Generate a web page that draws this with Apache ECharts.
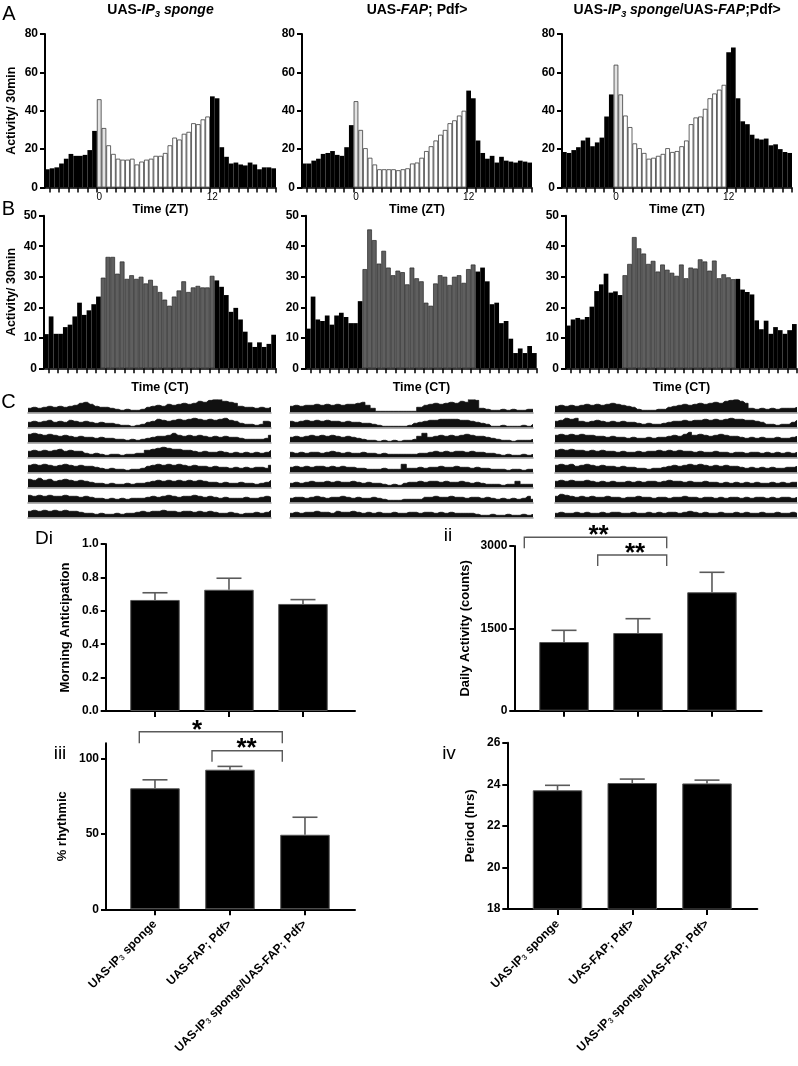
<!DOCTYPE html>
<html><head><meta charset="utf-8">
<script src="https://cdn.jsdelivr.net/npm/echarts@6/dist/echarts.min.js"></script>
<style>html,body{margin:0;padding:0;background:#fff}#c{width:798px;height:1066px}</style>
</head><body><div id="c"></div>
<script>
const FONT = '"Liberation Sans", Arial, Helvetica, sans-serif';

// ---------- Panel A: LD activity profiles (counts / 30 min) ----------
const aIP3  = [9.5,10,10.5,12.5,15,17.5,16.5,16.5,17,19.5,29.5, 46,31,22,17.5,15,14.5,14.5,15,12,13.5,14.5,15,16.5,16.5,18,22,26,25,28,29,33.5,33,35.5,37, 47.5,46.5,21,16,12.5,13,12,11.5,13,12,9.5,10.5,10.5,10];
const aFAP  = [12.5,12.5,14,15,17.5,18,19,17,16.5,21,32.5, 45,30,20.5,15.5,12,9.5,9.5,9.5,9.5,9,9.5,10,12.5,13,15.5,19,21.5,24.5,27.5,30,33.5,35,37.5,40, 50.5,46.5,24.5,18,15,16.5,13,16,14,13.5,13,14,13.5,13];
const aBoth = [18.5,18,19.5,21,24.5,26,21.5,23.5,26,37,48.5, 64,48.5,37.5,31.5,23,20.5,18,15,15.5,16.5,17.5,20.5,18.5,19,21.5,24.5,33,36.5,37,41,46.5,49,51,53.5, 70.5,73,46.5,34.5,33,27.5,25.5,25,25.5,22,22.5,20,18.5,18];
const aLightFrom = 11, aLightTo = 35;
const aTickLabels = {11: '0', 35: '12'};

// ---------- Panel B: DD activity profiles ----------
const bIP3  = [11.2,17,11.3,11.3,13.5,14.3,17,21.5,17.5,19,21,23.5, 29.7,36.5,36.5,31,35,29.3,30.5,29.3,30,27.8,29,27,25,22.5,20.5,23.5,25.5,28.5,25,26.5,27,26.5,26.5,30.3, 28.8,26.7,24,18.5,19.8,16,12,8.5,7,8.5,7,8,11];
const bFAP  = [13,23.5,16,15.5,17.3,14.3,17.3,18.2,16.8,14.8,14.8,22, 32.5,45.5,42,34.3,38.5,33,30.5,32,31.5,27.5,33,29.5,28.5,21.5,20.5,27.8,30.5,30,27.3,30,30.5,28,32.5,34, 31.7,33,28.5,21,21.5,14.8,15.5,9.7,5,6.5,5,7.3,5];
const bBoth = [14,16,16.5,16,16.8,20.2,25.3,27.5,31,24.8,25.2,24, 30.5,34.2,43,39.3,37.6,34.2,35.2,31.7,34,32.3,31.3,30.3,34,29.5,33,32.7,35.7,35,32,35.3,29.5,30.8,29.8,29.2, 29.3,25.8,25,24.2,15.7,12.8,15.6,11.3,13.5,12.5,11.3,12.5,14.5];
const bDayFrom = 12, bDayTo = 36;

// ---------- Panel C: actogram rows (8 days each) ----------
const cIP3 = [
 [4,5,4,5,6,5,6,5,6,7,9,10,8,6,5,5,4,3,2,3,2,2,3,5,6,7,6,8,7,8,9,8,9,11,10,12,13,14,11,10,9,6,5,5,4,5,4,5],
 [5,6,5,6,7,5,6,5,7,6,5,6,5,4,5,4,4,3,2,2,1,2,3,5,6,8,7,6,7,8,7,8,9,8,7,8,7,8,9,7,6,4,3,3,2,3,6,5],
 [8,9,8,7,8,7,6,7,6,5,6,5,5,4,5,4,4,3,3,2,3,2,3,4,5,6,6,7,9,7,6,7,6,7,6,5,6,5,6,5,5,4,3,3,3,3,4,7],
 [6,7,6,7,6,7,8,6,7,6,6,4,3,4,3,2,3,3,2,3,3,4,4,7,8,9,10,9,8,8,7,7,6,5,6,5,5,6,5,4,5,4,5,4,5,4,5,7],
 [7,8,7,8,7,6,7,8,7,6,7,6,6,5,4,3,4,3,3,2,3,3,4,6,7,8,7,8,7,8,7,6,7,6,6,5,6,5,5,4,5,4,5,4,5,5,4,7],
 [8,7,9,7,8,6,7,8,7,6,7,6,5,4,4,3,4,3,3,4,3,4,4,5,6,7,6,7,6,7,6,7,6,7,6,5,5,4,5,4,4,5,4,4,3,4,5,7],
 [7,6,7,6,7,6,6,7,6,6,5,6,5,4,4,3,4,3,4,3,4,4,4,5,6,5,6,7,6,5,6,6,7,6,5,6,5,4,5,4,4,4,5,4,4,5,6,5],
 [6,7,6,7,6,7,6,7,6,6,5,4,4,3,4,3,3,4,3,4,4,5,6,5,6,6,7,6,6,5,6,6,5,6,5,6,5,4,4,5,4,3,4,4,5,4,5,7]
];
const cFAP = [
 [6,7,6,7,7,8,7,8,7,8,7,8,8,9,10,7,4,1,1,1,1,1,1,1,1,5,7,8,9,8,9,10,9,11,10,14,12,4,3,2,2,3,2,3,2,2,3,3],
 [6,5,6,7,6,7,6,7,6,6,5,6,5,5,4,4,3,2,1,1,1,1,1,2,4,5,6,7,7,8,8,8,8,7,7,6,5,4,3,1,1,2,1,1,1,2,1,3],
 [5,6,5,6,7,6,7,6,7,6,5,6,5,4,3,2,2,1,2,1,2,1,2,2,3,6,9,5,6,7,6,7,6,7,8,7,6,6,5,4,3,2,2,1,2,2,2,3],
 [5,4,5,4,5,5,4,5,6,5,4,5,4,4,5,4,4,3,4,3,3,3,3,3,3,4,4,5,6,5,6,5,6,6,5,6,5,5,4,4,3,2,3,2,2,3,2,3],
 [5,6,5,6,5,6,6,5,6,5,6,5,5,4,4,3,3,3,4,3,3,3,8,4,4,5,4,5,5,6,5,5,6,5,5,4,5,4,4,3,3,3,2,3,3,2,3,3],
 [4,5,4,5,6,5,5,6,5,6,5,5,6,5,4,5,4,4,3,2,3,2,4,5,5,6,5,6,6,5,6,5,5,6,5,4,5,4,3,3,3,2,3,3,6,3,3,3],
 [4,5,5,4,5,6,5,4,5,5,6,5,4,5,4,4,5,4,3,2,2,2,3,3,3,3,5,5,6,5,5,6,5,5,4,5,5,4,5,4,3,4,3,4,3,4,6,3],
 [4,5,4,5,5,6,5,5,4,6,5,5,6,5,4,5,4,5,4,4,5,4,4,5,5,4,5,5,4,5,4,5,4,4,4,4,3,2,2,3,2,2,3,2,2,3,2,3]
];
const cBoth = [
 [6,7,6,7,6,7,8,7,8,7,8,9,8,7,6,5,3,2,2,2,3,3,5,6,7,8,7,8,9,8,9,10,9,11,12,13,11,9,4,3,4,3,4,3,4,4,4,5],
 [6,7,9,8,9,6,5,6,7,6,5,6,5,6,5,5,4,3,4,3,3,4,5,6,6,7,6,7,7,8,7,8,7,8,9,8,8,7,7,6,5,3,3,2,3,3,5,7],
 [7,8,7,8,7,8,7,7,6,6,5,6,5,5,4,5,4,4,5,4,5,5,6,7,6,8,10,7,8,7,6,7,8,7,6,6,5,4,5,4,5,4,4,5,4,4,5,6],
 [7,8,7,8,7,7,6,7,6,7,6,6,5,6,5,5,6,5,6,6,7,6,7,6,7,6,6,5,6,5,5,6,5,5,4,5,5,4,5,5,4,5,4,5,4,5,4,5],
 [7,8,7,8,6,7,8,7,6,7,6,6,5,6,5,5,4,4,3,4,4,5,6,7,6,7,8,7,8,7,6,7,6,7,6,6,5,4,5,4,5,4,5,4,4,5,5,6],
 [6,7,6,7,6,6,7,6,5,6,5,6,5,5,6,5,6,5,6,6,5,6,7,6,6,5,6,5,5,6,5,5,4,5,4,5,4,5,4,5,4,4,5,4,5,4,5,5],
 [6,8,7,6,5,6,5,6,5,5,6,5,5,4,5,5,6,5,5,4,5,5,4,5,5,6,5,5,4,5,5,4,5,4,5,5,4,5,4,5,5,4,5,4,5,5,4,5],
 [4,5,4,4,5,4,5,4,4,5,4,5,5,4,4,5,4,4,5,4,5,4,5,5,4,5,6,5,4,5,4,4,5,4,4,5,4,5,4,4,5,4,4,5,4,4,5,4]
];

// ---------- Panel D: summary statistics (mean, SEM) ----------
const genotypes = ['UAS-IP3 sponge', 'UAS-FAP; Pdf>', 'UAS-IP3 sponge/UAS-FAP; Pdf>'];
const morningMean = [0.665, 0.726, 0.641], morningSem = [0.043, 0.069, 0.026];
const dailyMean = [1251, 1415, 2157], dailySem = [213, 261, 364];
const rhythmicMean = [80.2, 92.5, 49.4], rhythmicSem = [5.6, 2.2, 11.6];
const periodMean = [23.71, 24.06, 24.04], periodSem = [0.24, 0.19, 0.16];

// ================= build =================
const grid = [], xAxis = [], yAxis = [], series = [], graphic = [];
const nameStyle = (fs) => ({color:'#000', fontFamily:FONT, fontWeight:'bold', fontSize:fs});

function histo(left, top, width, height, values, kind, yMax, yInt, yName, yGap, xName, xLabels) {
  const gi = grid.length;
  grid.push({left, top, width, height, containLabel:false, outerBoundsMode:'none'});
  xAxis.push({type:'category', gridIndex:gi, data: values.map((_, i) => String(i)), boundaryGap:true,
    axisLine:{show:true, onZero:false, lineStyle:{color:'#000', width:1.5}},
    axisTick:{show:true, length:5, interval:(i) => i % 2 === 1, lineStyle:{color:'#000', width:1.5}},
    axisLabel:{show:!!xLabels, interval:0, margin:5, color:'#000', fontFamily:FONT, fontSize:10,
      formatter:(v, i) => (xLabels && xLabels[i]) || ''},
    splitLine:{show:false},
    name:xName, nameLocation:'middle', nameGap: xLabels ? 15 : 13, nameTextStyle:nameStyle(12.5)});
  yAxis.push({type:'value', gridIndex:gi, min:0, max:yMax, interval:yInt,
    axisLine:{show:true, lineStyle:{color:'#000', width:2}},
    axisTick:{show:true, length:5, lineStyle:{color:'#000', width:2}},
    axisLabel:{color:'#000', fontFamily:FONT, fontWeight:'bold', fontSize:12, margin:7},
    splitLine:{show:false},
    name:yName || '', nameLocation:'middle', nameGap:yGap || 0, nameTextStyle:nameStyle(12.5)});
  const data = values.map((v, i) => {
    let st;
    if (kind === 'A') {
      if (i < aLightFrom || i >= aLightTo) st = {color:'#000'};
      else st = {color: i < aLightFrom + 2 ? '#e2e2e2' : '#fff', borderColor:'#3c3c3c', borderWidth:0.8};
    } else {
      if (i < bDayFrom || i >= bDayTo) st = {color:'#000'};
      else st = {color:'#5f5f5f', borderColor:'#262626', borderWidth:0.7};
    }
    return {value:v, itemStyle:st};
  });
  series.push({type:'bar', xAxisIndex:gi, yAxisIndex:gi, data, barCategoryGap:'0%', barGap:'0%', silent:true});
}

histo(45, 34, 231, 153.5, aIP3, 'A', 80, 20, 'Activity/ 30min', 27, 'Time (ZT)', aTickLabels);
histo(302, 34, 230, 153.5, aFAP, 'A', 80, 20, '', 0, 'Time (ZT)', aTickLabels);
histo(562, 34, 230, 153.5, aBoth, 'A', 80, 20, '', 0, 'Time (ZT)', aTickLabels);
histo(44, 215.7, 232, 152.6, bIP3, 'B', 50, 10, 'Activity/ 30min', 26, 'Time (CT)', null);
histo(306, 215.7, 230.7, 152.6, bFAP, 'B', 50, 10, '', 0, 'Time (CT)', null);
histo(566, 215.7, 230.7, 152.6, bBoth, 'B', 50, 10, '', 0, 'Time (CT)', null);

function actoRow(left, top, width, height, vals) {
  const gi = grid.length;
  grid.push({left, top, width, height, containLabel:false, outerBoundsMode:'none'});
  xAxis.push({type:'category', gridIndex:gi, data: vals.map((_, i) => String(i)), boundaryGap:false,
    axisLine:{show:true, onZero:false, lineStyle:{color:'#9a9a9a', width:1.6}},
    axisTick:{show:false}, axisLabel:{show:false}, splitLine:{show:false}});
  yAxis.push({type:'value', gridIndex:gi, min:0, max:12.5, show:false, splitLine:{show:false}});
  series.push({type:'line', xAxisIndex:gi, yAxisIndex:gi, data:vals, symbol:'none', silent:true, step:'middle',
    lineStyle:{color:'#111', width:0.8}, areaStyle:{color:'#111', opacity:1}});
}
const cCols = [[28, 243, cIP3], [290, 243, cFAP], [555, 242, cBoth]];
cCols.forEach(([l, w, rows]) => rows.forEach((r, k) => actoRow(l, 399.8 + 15 * k, w, 12.5, r)));

function labelFmt(v) {
  const i = Math.round(v) - 1;
  return (genotypes[i] || '').replace('IP3', 'IP{s|3}');
}
function summary(left, top, width, height, xMin, xMax, mean, sem, yCfg, yName, yGap, showLabels) {
  const gi = grid.length;
  grid.push({left, top, width, height, containLabel:false, outerBoundsMode:'none'});
  xAxis.push({type:'value', gridIndex:gi, min:xMin, max:xMax,
    axisLine:{show:true, onZero:false, lineStyle:{color:'#000', width:2}},
    axisTick:{show:true, customValues:[1, 2, 3], length:6, lineStyle:{color:'#000', width:2}},
    axisLabel:{show:showLabels, customValues:[1, 2, 3], rotate:45, margin:13, color:'#000',
      fontFamily:FONT, fontWeight:'bold', fontSize:12, formatter:labelFmt,
      rich:{s:{fontSize:8, fontFamily:FONT, color:'#444', verticalAlign:'bottom', padding:[4,0,0,0]}}},
    splitLine:{show:false}});
  yAxis.push(Object.assign({type:'value', gridIndex:gi,
    axisLine:{show:true, lineStyle:{color:'#000', width:2}},
    axisTick:{show:true, length:5, lineStyle:{color:'#000', width:2}},
    splitLine:{show:false},
    name:yName, nameLocation:'middle', nameGap:yGap, nameTextStyle:nameStyle(13)}, yCfg,
    {axisLabel:Object.assign({color:'#000', fontFamily:FONT, fontWeight:'bold', fontSize:12, margin:7,
      formatter:(v) => String(v)}, yCfg.axisLabel || {})}));
  series.push({type:'bar', xAxisIndex:gi, yAxisIndex:gi, barWidth:49.5, silent:true,
    data: mean.map((m, i) => [i + 1, m]),
    itemStyle:{color:'#000', borderColor:'#555', borderWidth:1}});
  series.push({type:'custom', xAxisIndex:gi, yAxisIndex:gi, silent:true, clip:false,
    data: mean.map((m, i) => [i + 1, m, m + sem[i]]),
    renderItem:(p, api) => {
      const x = api.value(0);
      const lo = api.coord([x, api.value(1)]), hi = api.coord([x, api.value(2)]);
      const st = {stroke:'#5a5a5a', lineWidth:1.6};
      return {type:'group', children:[
        {type:'line', shape:{x1:lo[0], y1:lo[1], x2:hi[0], y2:hi[1]}, style:st},
        {type:'line', shape:{x1:hi[0] - 12.5, y1:hi[1], x2:hi[0] + 12.5, y2:hi[1]}, style:st}]};
    }});
}
summary(105.7, 544, 249.3, 167, 0.334, 3.703, morningMean, morningSem,
  {min:0, max:1, interval:0.2, axisLabel:{formatter:(v) => v.toFixed(1)}}, 'Morning Anticipation', 34, false);
summary(514.3, 546, 247.4, 164.7, 0.328, 3.672, dailyMean, dailySem,
  {min:0, max:3000, interval:1500}, 'Daily Activity (counts)', 42, false);
summary(106, 743.3, 249, 166, 0.347, 3.667, rhythmicMean, rhythmicSem,
  {min:0, max:110, axisTick:{show:true, length:5, customValues:[0, 50, 100], lineStyle:{color:'#000', width:2}},
   axisLabel:{customValues:[0, 50, 100]}}, '% rhythmic', 37, true);
summary(507.3, 742.7, 250, 166.3, 0.328, 3.673, periodMean, periodSem,
  {min:18, max:26, interval:2}, 'Period (hrs)', 30, true);

// ---------- annotations ----------
const tf = (w, s, st) => `${st || ''} ${w} ${s}px ${FONT}`;
function txt(x, y, text, font, extra) {
  graphic.push({type:'text', x, y, silent:true, style:Object.assign({text, font, fill:'#000',
    align:'center', verticalAlign:'middle', textAlign:'center', textVerticalAlign:'middle'}, extra || {})});
}
const titleRich = {
  b:{font:tf('bold', 14), fill:'#000', lineHeight:18},
  bi:{font:tf('bold', 14, 'italic'), fill:'#000', lineHeight:18},
  s:{font:tf('bold', 9.5, 'italic'), fill:'#000', lineHeight:8, verticalAlign:'bottom'}
};
txt(160.5, 10, '{b|UAS-}{bi|IP}{s|3}{bi| sponge}', tf('bold', 14), {rich:titleRich});
txt(417, 10, '{b|UAS-}{bi|FAP}{b|; Pdf>}', tf('bold', 14), {rich:titleRich});
txt(677, 10, '{b|UAS-}{bi|IP}{s|3}{bi| sponge}{b|/UAS-}{bi|FAP}{b|;Pdf>}', tf('bold', 14), {rich:titleRich});

txt(9, 14, 'A', tf('normal', 20));
txt(8.5, 209, 'B', tf('normal', 20));
txt(8.5, 402, 'C', tf('normal', 20));
txt(44, 539, 'Di', tf('normal', 19));
txt(448, 536, 'ii', tf('normal', 19));
txt(60, 754, 'iii', tf('normal', 19));
txt(449, 754, 'iv', tf('normal', 19));

function bracket(x1, x2, y, leg) {
  graphic.push({type:'polyline', silent:true, shape:{points:[[x1, y + leg], [x1, y], [x2, y], [x2, y + leg]]},
    style:{stroke:'#5a5a5a', lineWidth:1.4, fill:null}});
}
bracket(524.3, 666.7, 537.3, 11);
bracket(597.7, 666.7, 555, 11);
bracket(139.3, 282.3, 731.7, 11.6);
bracket(212, 282.3, 750.7, 11);
txt(598.5, 536, '**', tf('bold', 26));
txt(635, 554, '**', tf('bold', 26));
txt(197, 731, '*', tf('bold', 26));
txt(246.5, 749, '**', tf('bold', 26));

const chart = echarts.init(document.getElementById('c'), null, {renderer:'canvas'});
chart.setOption({animation:false, backgroundColor:'#fff', textStyle:{fontFamily:FONT},
  grid, xAxis, yAxis, series, graphic});
</script></body></html>
